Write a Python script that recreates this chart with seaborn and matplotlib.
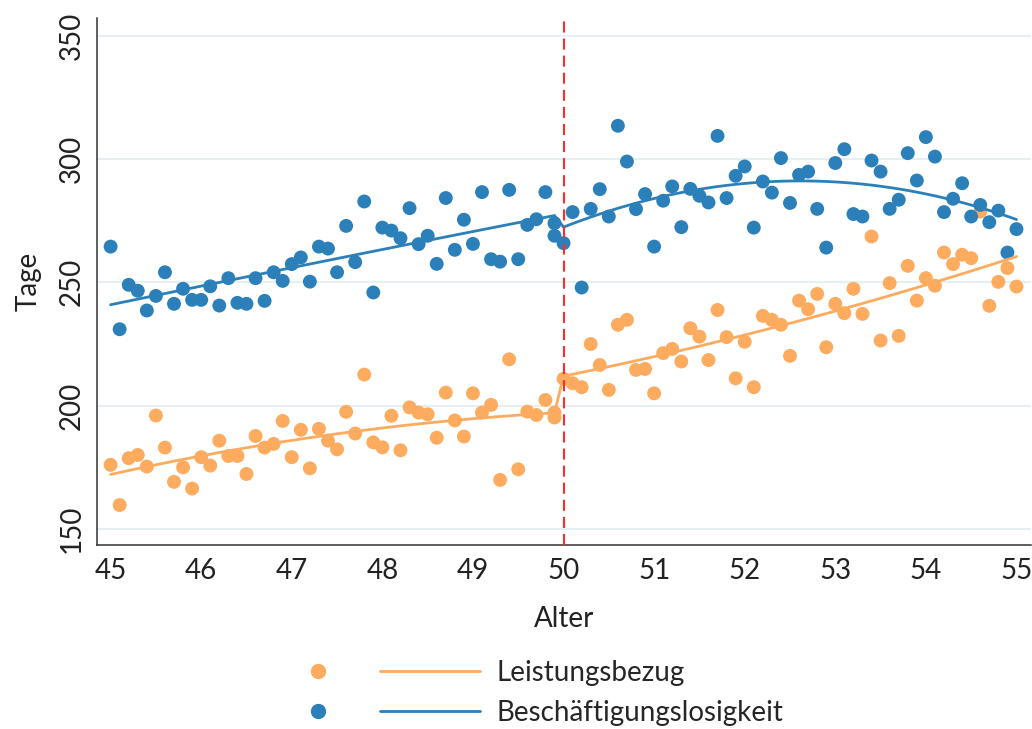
import numpy as np
import pandas as pd
import matplotlib
matplotlib.use("Agg")
import matplotlib.pyplot as plt
import seaborn as sns
from matplotlib.lines import Line2D
from matplotlib.legend_handler import HandlerTuple

# ---- Daten ----
# Altersgitter in 0.1-Jahres-Schritten, 49.9 kommt zweimal vor
alter = [round(45 + i / 10, 1) for i in range(50)] + [49.9] + [round(50 + i / 10, 1) for i in range(51)]

leistungsbezug = [
    176.0, 159.7, 178.7, 180.0, 175.3, 196.0, 183.0, 169.1, 175.0, 166.4,
    179.1, 175.7, 185.8, 179.6, 179.6, 172.3, 187.7, 183.0, 184.5, 193.8,
    179.1, 190.2, 174.6, 190.6, 185.8, 182.3, 197.5, 188.7, 212.6, 185.1,
    183.1, 195.9, 181.9, 199.3, 197.2, 196.5, 187.0, 205.3, 194.0, 187.5,
    205.0, 197.2, 200.3, 169.9, 218.8, 174.2, 197.6, 196.2, 202.3, 197.2, 195.2,
    210.9, 209.1, 207.5, 225.0, 216.5, 206.4, 232.8, 234.8, 214.5, 214.9,
    205.0, 221.3, 223.0, 217.9, 231.4, 228.0, 218.5, 238.8, 227.8, 211.1,
    225.9, 207.5, 236.4, 234.8, 232.8, 220.2, 242.6, 239.1, 245.3, 223.7,
    241.3, 237.5, 247.4, 237.2, 268.6, 226.4, 249.7, 228.3, 256.7, 242.6,
    251.7, 248.6, 262.1, 257.4, 261.2, 259.8, 278.7, 240.5, 250.2, 255.8, 248.3,
]

beschaeftigungslos = [
    264.5, 231.0, 249.0, 246.6, 238.6, 244.5, 254.1, 241.3, 247.4, 242.9,
    242.9, 248.4, 240.6, 251.7, 241.7, 241.3, 251.7, 242.5, 254.1, 250.6,
    257.4, 260.1, 250.3, 264.5, 263.7, 254.1, 272.9, 258.2, 282.8, 245.9,
    272.2, 271.0, 267.9, 280.1, 265.5, 268.9, 257.5, 284.2, 263.2, 275.4,
    265.6, 286.6, 259.4, 258.4, 287.5, 259.4, 273.3, 275.6, 286.6, 274.0, 268.9,
    265.9, 278.5, 247.9, 279.8, 287.8, 276.7, 313.5, 299.0, 279.7, 285.8,
    264.5, 283.1, 288.9, 272.4, 287.9, 285.1, 282.4, 309.4, 284.2, 293.2,
    297.0, 272.2, 290.9, 286.4, 300.4, 282.2, 293.6, 294.9, 279.8, 264.1,
    298.4, 304.0, 277.7, 276.7, 299.4, 294.9, 279.8, 283.5, 302.4, 291.3,
    308.9, 301.0, 278.5, 283.9, 290.2, 276.7, 281.4, 274.4, 279.1, 262.1, 271.6,
]

gruppen = ["Leistungsbezug", "Beschäftigungslosigkeit"]
farben = {"Leistungsbezug": "#fdab5f", "Beschäftigungslosigkeit": "#2c80b9"}
schwelle = 50

# ---- Daten aufbereiten ----
punkte = pd.concat([
    pd.DataFrame({"alter": alter, "tage": leistungsbezug, "gruppe": gruppen[0]}),
    pd.DataFrame({"alter": alter, "tage": beschaeftigungslos, "gruppe": gruppen[1]}),
], ignore_index=True)

# quadratischer Fit getrennt links/rechts der Schwelle
linien = []
for g in gruppen:
    sub = punkte[punkte["gruppe"] == g]
    for seite in [sub[sub["alter"] < schwelle], sub[sub["alter"] >= schwelle]]:
        koef = np.polyfit(seite["alter"], seite["tage"], 2)
        xs = np.sort(seite["alter"].unique())
        linien.append(pd.DataFrame({"alter": xs, "tage": np.polyval(koef, xs), "gruppe": g}))
linien = pd.concat(linien, ignore_index=True)

# ---- Plot ----
sns.set_style("white")
plt.rcParams["font.family"] = ["Lato", "DejaVu Sans"]
fs = 20

fig = plt.figure(figsize=(10.32, 7.29), dpi=100)
ax = fig.add_axes([0.094, 0.2524, 0.905, 0.7229])

for yv in [150, 200, 250, 300, 350]:
    ax.axhline(yv, color="#e6eff2", lw=1.5, zorder=0)

sns.scatterplot(data=punkte, x="alter", y="tage", hue="gruppe", palette=farben,
                s=100, edgecolor="none", linewidth=0, alpha=1, legend=False, ax=ax, zorder=3)
sns.lineplot(data=linien, x="alter", y="tage", hue="gruppe", palette=farben,
             estimator=None, sort=True, lw=2, legend=False, ax=ax, zorder=4)

ax.axvline(schwelle, color="#ff2a2a", lw=1.5, ls=(0, (5.3, 2.9)), zorder=5)

ax.set_xlim(44.85, 55.16)
ax.set_ylim(143.5, 357.2)
ax.set_xticks(range(45, 56))
ax.set_yticks([150, 200, 250, 300, 350])

for s in ["top", "right"]:
    ax.spines[s].set_visible(False)
for s in ["left", "bottom"]:
    ax.spines[s].set_color("#333333")
    ax.spines[s].set_linewidth(1.1)

ax.tick_params(axis="both", length=6, width=1.1, color="#333333", labelsize=fs, pad=3,
               labelcolor="#222222")
ax.tick_params(axis="y", labelrotation=90)
for lab in ax.get_yticklabels():
    lab.set_va("center")

ax.set_xlabel("Alter", fontsize=fs, labelpad=16, color="#222222")
ax.set_ylabel("Tage", fontsize=fs, labelpad=12, color="#222222")

# Legende: Punkt + Linie je Gruppe
handles = []
for g in gruppen:
    dot = Line2D([], [], marker="o", ls="none", color=farben[g], markersize=10)
    ln = Line2D([], [], color=farben[g], lw=2)
    handles.append((dot, ln))
fig.legend(handles, gruppen, handler_map={tuple: HandlerTuple(ndivide=2, pad=0.43)},
           loc="upper left", bbox_to_anchor=(0.2597, 0.095), frameon=False,
           fontsize=fs, handlelength=7.63, handletextpad=0.61, labelspacing=0.5,
           borderpad=0, borderaxespad=0)

fig.savefig("out.png", dpi=100)
